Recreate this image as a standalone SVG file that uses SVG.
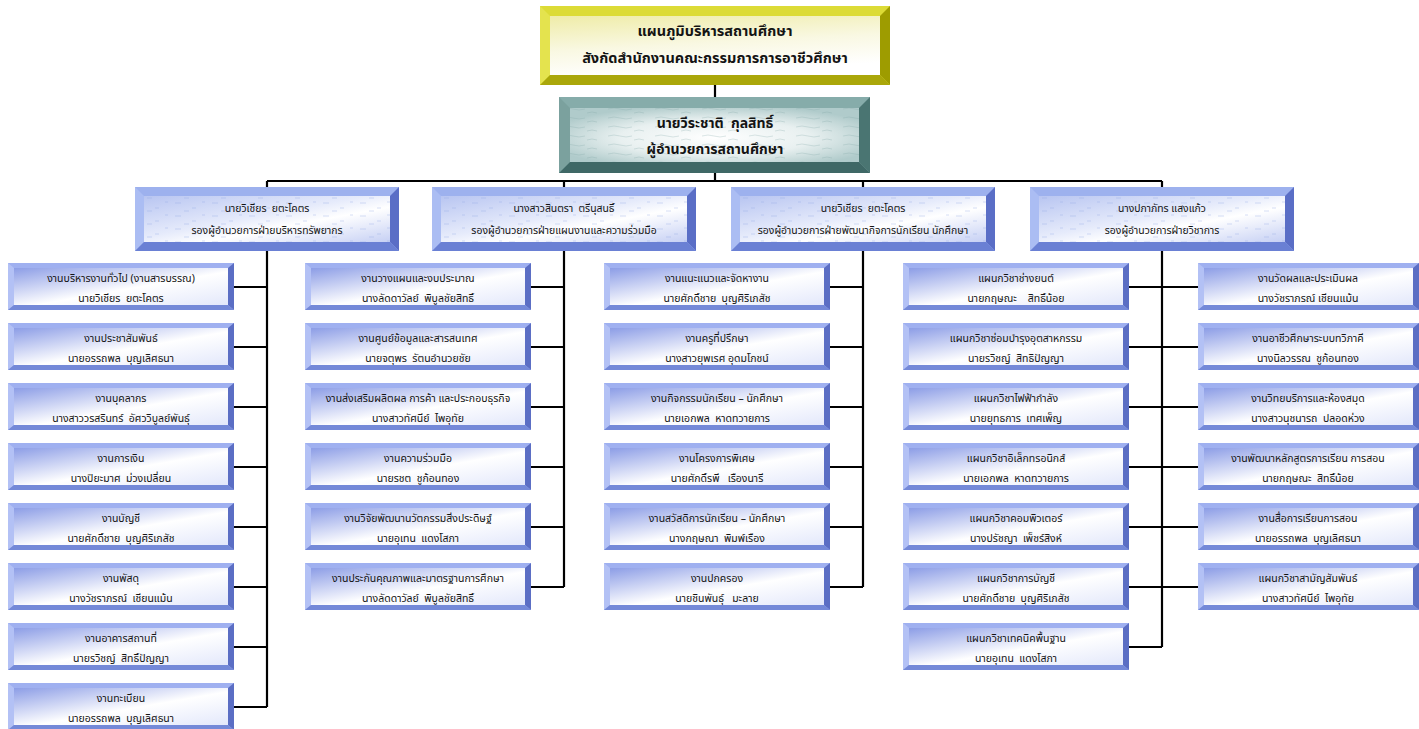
<svg xmlns="http://www.w3.org/2000/svg" xmlns:xlink="http://www.w3.org/1999/xlink" width="1419" height="729" viewBox="0 0 1419 729">
<style>
text{font-family:"Noto Sans Thai","Tahoma","Leelawadee UI","Noto Sans",sans-serif;fill:#141414;text-anchor:middle;white-space:pre}
.t{font-size:14.5px;font-weight:bold}
.d{font-size:14px;font-weight:bold}
.v{font-size:10.4px}
.c{font-size:10.5px}
.ln{stroke:#000;stroke-width:2.2;fill:none}
</style>
<defs>
<linearGradient id="gT" x1="0" y1="0" x2="0.3" y2="1">
<stop offset="0" stop-color="#efeca8"/><stop offset="0.55" stop-color="#f9f8e2"/><stop offset="1" stop-color="#ffffff"/>
</linearGradient>
<radialGradient id="gD" cx="0.5" cy="0.55" r="0.6">
<stop offset="0" stop-color="#ffffff"/><stop offset="0.55" stop-color="#e8f0f0"/><stop offset="1" stop-color="#b0cbcb"/>
</radialGradient>
<linearGradient id="gV" x1="0" y1="0" x2="1" y2="1">
<stop offset="0" stop-color="#b8c5f1"/><stop offset="0.45" stop-color="#e6ebfb"/><stop offset="0.62" stop-color="#ffffff"/><stop offset="1" stop-color="#c6d0f4"/>
</linearGradient>
<linearGradient id="gC" x1="0" y1="0" x2="1" y2="1">
<stop offset="0" stop-color="#8c9de6"/><stop offset="0.55" stop-color="#ffffff"/><stop offset="1" stop-color="#e3e8fb"/>
</linearGradient>
<pattern id="pS" width="37" height="13" patternUnits="userSpaceOnUse">
<path d="M3 3h6M20 8h4M30 2h3M12 11h5" stroke="#8da2e6" stroke-width="1" opacity="0.35"/>
</pattern>
<pattern id="pW" width="47" height="9" patternUnits="userSpaceOnUse">
<path d="M2 3q6 -2 12 0t12 0M28 7q5 -2 10 0" stroke="#7fa3a3" stroke-width="0.8" fill="none" opacity="0.35"/>
</pattern>
<g id="bT">
<rect width="350" height="79" fill="#dcdb36"/>
<polygon points="0,0 10,10 10,69 0,79" fill="#e4e34e"/>
<polygon points="350,0 340,10 340,69 350,79" fill="#9e9c00"/>
<polygon points="0,79 10,69 340,69 350,79" fill="#aaa70a"/>
<rect x="10" y="10" width="330" height="59" fill="url(#gT)"/>
</g>
<g id="bD">
<rect width="311" height="76" fill="#86acaa"/>
<polygon points="0,0 11,11 11,65 0,76" fill="#7ba19e"/>
<polygon points="311,0 300,11 300,65 311,76" fill="#4a7572"/>
<polygon points="0,76 11,65 300,65 311,76" fill="#3f6866"/>
<rect x="11" y="11" width="289" height="54" fill="url(#gD)"/>
<rect x="11" y="11" width="289" height="54" fill="url(#pW)"/>
</g>
<g id="bV">
<rect width="264" height="64" fill="#9db1ee"/>
<polygon points="0,0 9,9 9,55 0,64" fill="#abbdf3"/>
<polygon points="264,0 255,9 255,55 264,64" fill="#5a6ec6"/>
<polygon points="0,64 9,55 255,55 264,64" fill="#6a80d4"/>
<rect x="9" y="9" width="246" height="46" fill="url(#gV)"/>
<rect x="9" y="9" width="246" height="46" fill="url(#pS)"/>
</g>
<g id="bC">
<rect width="226" height="47" fill="#9fb0f0"/>
<polygon points="0,0 6,5 6,42 0,47" fill="#b3c1f5"/>
<polygon points="226,0 220,5 220,42 226,47" fill="#5b6ec4"/>
<polygon points="0,47 6,42 220,42 226,47" fill="#7489d8"/>
<rect x="6" y="5" width="214" height="37" fill="url(#gC)"/>
</g>
<g id="bC5">
<rect width="221" height="47" fill="#9fb0f0"/>
<polygon points="0,0 6,5 6,42 0,47" fill="#b3c1f5"/>
<polygon points="221,0 215,5 215,42 221,47" fill="#5b6ec4"/>
<polygon points="0,47 6,42 215,42 221,47" fill="#7489d8"/>
<rect x="6" y="5" width="209" height="37" fill="url(#gC)"/>
</g>
</defs>
<rect width="1419" height="729" fill="#ffffff"/>

<g id="connectors" class="ln">
<path d="M715 85V97M715 173V181M267 181H1162M267 181V187M564 181V187M863 181V187M1162 181V187"/>
<path d="M267 251V707M234 287H267M234 347H267M234 407H267M234 467H267M234 527H267M234 587H267M234 647H267M234 707H267"/>
<path d="M564 251V587M531 287H564M531 347H564M531 407H564M531 467H564M531 527H564M531 587H564"/>
<path d="M863 251V587M830 287H863M830 347H863M830 407H863M830 467H863M830 527H863M830 587H863"/>
<path d="M1162 251V647M1129 287H1198M1129 347H1198M1129 407H1198M1129 467H1198M1129 527H1198M1129 587H1198M1129 647H1162"/>
</g>

<g id="title"><use href="#bT" x="540" y="6"/><text class="t" x="715" y="36">แผนภูมิบริหารสถานศึกษา</text><text class="t" x="715" y="63">สังกัดสำนักงานคณะกรรมการการอาชีวศึกษา</text></g>
<g id="director"><use href="#bD" x="559" y="97"/><text class="d" x="715" y="128">นายวีระชาติ  กุลสิทธิ์</text><text class="d" x="715" y="154">ผู้อำนวยการสถานศึกษา</text></g>

<g id="dep1"><use href="#bV" x="135" y="187"/><text class="v" x="267" y="212">นายวิเชียร  ยตะโคตร</text><text class="v" x="267" y="234">รองผู้อำนวยการฝ่ายบริหารทรัพยากร</text></g>
<g id="dep2"><use href="#bV" x="432" y="187"/><text class="v" x="564" y="212">นางสาวสินตรา  ตรีนุสนธิ์</text><text class="v" x="564" y="234">รองผู้อำนวยการฝ่ายแผนงานและความร่วมมือ</text></g>
<g id="dep3"><use href="#bV" x="731" y="187"/><text class="v" x="863" y="212">นายวิเชียร  ยตะโคตร</text><text class="v" x="863" y="234">รองผู้อำนวยการฝ่ายพัฒนากิจการนักเรียน นักศึกษา</text></g>
<g id="dep4"><use href="#bV" x="1030" y="187"/><text class="v" x="1162" y="212">นางปภาภัทร แสงแก้ว</text><text class="v" x="1162" y="234">รองผู้อำนวยการฝ่ายวิชาการ</text></g>

<g id="c1r1"><use href="#bC" x="8" y="263"/><text class="c" x="121" y="282">งานบริหารงานทั่วไป (งานสารบรรณ)</text><text class="c" x="121" y="302">นายวิเชียร  ยตะโคตร</text></g>
<g id="c1r2"><use href="#bC" x="8" y="323"/><text class="c" x="121" y="342">งานประชาสัมพันธ์</text><text class="c" x="121" y="362">นายอรรถพล  บุญเลิศธนา</text></g>
<g id="c1r3"><use href="#bC" x="8" y="383"/><text class="c" x="121" y="402">งานบุคลากร</text><text class="c" x="121" y="422">นางสาววรสรินทร์  อัศววิบูลย์พันธุ์</text></g>
<g id="c1r4"><use href="#bC" x="8" y="443"/><text class="c" x="121" y="462">งานการเงิน</text><text class="c" x="121" y="482">นางปิยะมาศ  ม่วงเปลี่ยน</text></g>
<g id="c1r5"><use href="#bC" x="8" y="503"/><text class="c" x="121" y="522">งานบัญชี</text><text class="c" x="121" y="542">นายศักดิ์ชาย  บุญศิริเภสัช</text></g>
<g id="c1r6"><use href="#bC" x="8" y="563"/><text class="c" x="121" y="582">งานพัสดุ</text><text class="c" x="121" y="602">นางวัชราภรณ์  เชียนแม้น</text></g>
<g id="c1r7"><use href="#bC" x="8" y="623"/><text class="c" x="121" y="642">งานอาคารสถานที่</text><text class="c" x="121" y="662">นายรวิชญ์  สิทธิ์ปัญญา</text></g>
<g id="c1r8"><use href="#bC" x="8" y="683"/><text class="c" x="121" y="702">งานทะเบียน</text><text class="c" x="121" y="722">นายอรรถพล  บุญเลิศธนา</text></g>

<g id="c2r1"><use href="#bC" x="305" y="263"/><text class="c" x="418" y="282">งานวางแผนและงบประมาณ</text><text class="c" x="418" y="302">นางลัดดาวัลย์  พิบูลชัยสิทธิ์</text></g>
<g id="c2r2"><use href="#bC" x="305" y="323"/><text class="c" x="418" y="342">งานศูนย์ข้อมูลและสารสนเทศ</text><text class="c" x="418" y="362">นายจตุพร  รัตนอำนวยชัย</text></g>
<g id="c2r3"><use href="#bC" x="305" y="383"/><text class="c" x="418" y="402">งานส่งเสริมผลิตผล การค้า และประกอบธุรกิจ</text><text class="c" x="418" y="422">นางสาวทัศนีย์  ไพอุทัย</text></g>
<g id="c2r4"><use href="#bC" x="305" y="443"/><text class="c" x="418" y="462">งานความร่วมมือ</text><text class="c" x="418" y="482">นายรชต  ชูก้อนทอง</text></g>
<g id="c2r5"><use href="#bC" x="305" y="503"/><text class="c" x="418" y="522">งานวิจัยพัฒนานวัตกรรมสิ่งประดิษฐ์</text><text class="c" x="418" y="542">นายอุเทน  แดงโสภา</text></g>
<g id="c2r6"><use href="#bC" x="305" y="563"/><text class="c" x="418" y="582">งานประกันคุณภาพและมาตรฐานการศึกษา</text><text class="c" x="418" y="602">นางลัดดาวัลย์  พิบูลชัยสิทธิ์</text></g>

<g id="c3r1"><use href="#bC" x="604" y="263"/><text class="c" x="717" y="282">งานแนะแนวและจัดหางาน</text><text class="c" x="717" y="302">นายศักดิ์ชาย  บุญศิริเภสัช</text></g>
<g id="c3r2"><use href="#bC" x="604" y="323"/><text class="c" x="717" y="342">งานครูที่ปรึกษา</text><text class="c" x="717" y="362">นางสาวยุพเรศ อุดมโภชน์</text></g>
<g id="c3r3"><use href="#bC" x="604" y="383"/><text class="c" x="717" y="402">งานกิจกรรมนักเรียน – นักศึกษา</text><text class="c" x="717" y="422">นายเอกพล  หาดทวายการ</text></g>
<g id="c3r4"><use href="#bC" x="604" y="443"/><text class="c" x="717" y="462">งานโครงการพิเศษ</text><text class="c" x="717" y="482">นายศักดิ์รพี   เรืองนารี</text></g>
<g id="c3r5"><use href="#bC" x="604" y="503"/><text class="c" x="717" y="522">งานสวัสดิการนักเรียน – นักศึกษา</text><text class="c" x="717" y="542">นางกฤษณา  พิมพ์เรือง</text></g>
<g id="c3r6"><use href="#bC" x="604" y="563"/><text class="c" x="717" y="582">งานปกครอง</text><text class="c" x="717" y="602">นายชินพันธุ์   มะลาย</text></g>

<g id="c4r1"><use href="#bC" x="903" y="263"/><text class="c" x="1016" y="282">แผนกวิชาช่างยนต์</text><text class="c" x="1016" y="302">นายกฤษณะ    สิทธิ์น้อย</text></g>
<g id="c4r2"><use href="#bC" x="903" y="323"/><text class="c" x="1016" y="342">แผนกวิชาซ่อมบำรุงอุตสาหกรรม</text><text class="c" x="1016" y="362">นายรวิชญ์  สิทธิปัญญา</text></g>
<g id="c4r3"><use href="#bC" x="903" y="383"/><text class="c" x="1016" y="402">แผนกวิชาไฟฟ้ากำลัง</text><text class="c" x="1016" y="422">นายยุทธการ  เทศเพ็ญ</text></g>
<g id="c4r4"><use href="#bC" x="903" y="443"/><text class="c" x="1016" y="462">แผนกวิชาอิเล็กทรอนิกส์</text><text class="c" x="1016" y="482">นายเอกพล  หาดทวายการ</text></g>
<g id="c4r5"><use href="#bC" x="903" y="503"/><text class="c" x="1016" y="522">แผนกวิชาคอมพิวเตอร์</text><text class="c" x="1016" y="542">นางปรัชญา  เพ็ชร์สิงห์</text></g>
<g id="c4r6"><use href="#bC" x="903" y="563"/><text class="c" x="1016" y="582">แผนกวิชาการบัญชี</text><text class="c" x="1016" y="602">นายศักดิ์ชาย  บุญศิริเภสัช</text></g>
<g id="c4r7"><use href="#bC" x="903" y="623"/><text class="c" x="1016" y="642">แผนกวิชาเทคนิคพื้นฐาน</text><text class="c" x="1016" y="662">นายอุเทน  แดงโสภา</text></g>

<g id="c5r1"><use href="#bC5" x="1198" y="263"/><text class="c" x="1308" y="282">งานวัดผลและประเมินผล</text><text class="c" x="1308" y="302">นางวัชราภรณ์ เชียนแม้น</text></g>
<g id="c5r2"><use href="#bC5" x="1198" y="323"/><text class="c" x="1308" y="342">งานอาชีวศึกษาระบบทวิภาคี</text><text class="c" x="1308" y="362">นางนิลวรรณ  ชูก้อนทอง</text></g>
<g id="c5r3"><use href="#bC5" x="1198" y="383"/><text class="c" x="1308" y="402">งานวิทยบริการและห้องสมุด</text><text class="c" x="1308" y="422">นางสาวนุชนารถ  ปลอดห่วง</text></g>
<g id="c5r4"><use href="#bC5" x="1198" y="443"/><text class="c" x="1308" y="462">งานพัฒนาหลักสูตรการเรียน การสอน</text><text class="c" x="1308" y="482">นายกฤษณะ  สิทธิ์น้อย</text></g>
<g id="c5r5"><use href="#bC5" x="1198" y="503"/><text class="c" x="1308" y="522">งานสื่อการเรียนการสอน</text><text class="c" x="1308" y="542">นายอรรถพล  บุญเลิศธนา</text></g>
<g id="c5r6"><use href="#bC5" x="1198" y="563"/><text class="c" x="1308" y="582">แผนกวิชาสามัญสัมพันธ์</text><text class="c" x="1308" y="602">นางสาวทัศนีย์  ไพอุทัย</text></g>
</svg>
